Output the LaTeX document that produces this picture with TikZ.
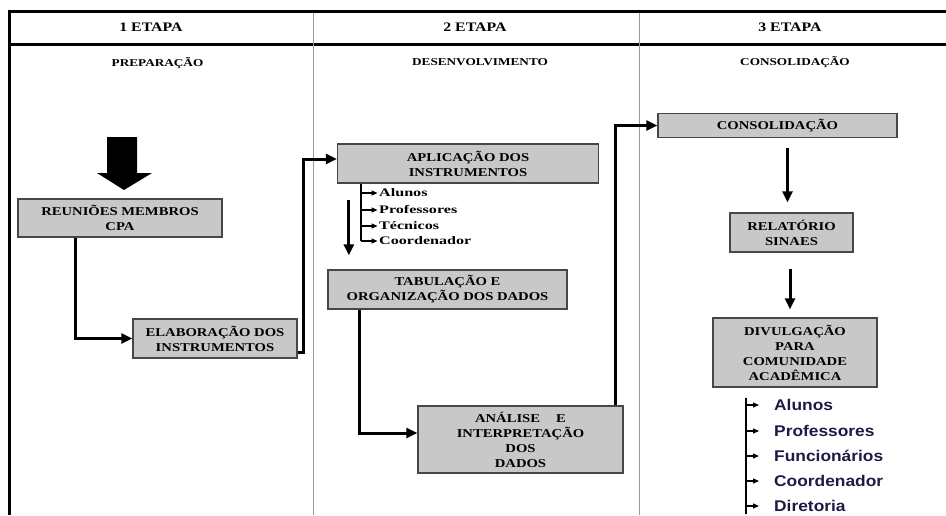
\documentclass[tikz,border=0pt]{standalone}
\usepackage{fontspec}
\setmainfont{Liberation Serif}
\newfontfamily\boxfont[FakeStretch=1.22]{Liberation Serif}
\newfontfamily\phasefont[FakeStretch=1.26]{Liberation Serif}
\newfontfamily\itemfont[FakeStretch=1.4]{Liberation Serif}
\newfontfamily\listfont[FakeStretch=1.12]{Liberation Sans}
\usetikzlibrary{arrows.meta,positioning,calc}

\definecolor{boxgray}{HTML}{C8C8C8}
\definecolor{listblue}{HTML}{1B1B45}

\begin{document}
\begin{tikzpicture}[x=1pt,y=-1pt,
	stagebox/.style={draw=black!72,line width=1.3pt,fill=boxgray,inner sep=0pt,align=center,font=\boxfont\bfseries\fontsize{12}{15}\selectfont},
	conn/.style={line width=3pt,-{Triangle[length=11pt,width=10pt]}},
	branch/.style={line width=1.3pt,-{Triangle[length=6pt,width=5pt]}},
	stagehead/.style={font=\boxfont\bfseries\fontsize{13}{15}\selectfont},
	phasehead/.style={font=\phasefont\bfseries\fontsize{10.5}{12}\selectfont},
	item/.style={anchor=west,inner sep=0pt,font=\itemfont\bfseries\fontsize{11.5}{13}\selectfont},
	listitem/.style={anchor=west,inner sep=0pt,text=listblue,font=\listfont\bfseries\fontsize{15.5}{18}\selectfont}]
	\useasboundingbox (0,0) rectangle (946,515);

	\draw[line width=3pt] (9,11) -- (946,11);
	\draw[line width=3pt] (9,44) -- (946,44);
	\draw[line width=3pt] (9,9.5) -- (9,515);
	\draw[gray!80,line width=0.9pt] (313,12.5) -- (313,515);
	\draw[gray!80,line width=0.9pt] (639,12.5) -- (639,515);

	\node[stagehead] (et1) at (151,27) {1 ETAPA};
	\node[stagehead] (et2) at (475,27) {2 ETAPA};
	\node[stagehead] (et3) at (790,27) {3 ETAPA};
	\node[phasehead] (ph1) at (157.5,63) {PREPARAÇÃO};
	\node[phasehead] (ph2) at (480,62) {DESENVOLVIMENTO};
	\node[phasehead] (ph3) at (795,62) {CONSOLIDAÇÃO};

	\fill (107,137) -- (137,137) -- (137,173) -- (152,173) -- (124,190) -- (97,173) -- (107,173) -- cycle;

	\node[stagebox,minimum width=204pt,minimum height=38pt] (reun) at (120,218) {REUNIÕES MEMBROS\\CPA};
	\node[stagebox,minimum width=164pt,minimum height=39pt] (elab) at (215,338.5) {ELABORAÇÃO DOS\\INSTRUMENTOS};
	\node[stagebox,minimum width=261pt,minimum height=39pt] (aplic) at (468,163.5) {APLICAÇÃO DOS\\INSTRUMENTOS};
	\node[stagebox,minimum width=239pt,minimum height=39pt] (tabul) at (447.5,289.5) {TABULAÇÃO E\\ORGANIZAÇÃO DOS DADOS};
	\node[stagebox,minimum width=205pt,minimum height=67pt] (anal) at (520.5,439.5) {ANÁLISE\hspace{16pt}E\\INTERPRETAÇÃO\\DOS\\DADOS};
	\node[stagebox,minimum width=239pt,minimum height=24pt] (consol) at (777.5,125.5) {CONSOLIDAÇÃO};
	\node[stagebox,minimum width=123pt,minimum height=39pt] (relat) at (791.5,232.5) {RELATÓRIO\\SINAES};
	\node[stagebox,minimum width=164pt,minimum height=69pt] (divulg) at (795,352.5) {DIVULGAÇÃO\\PARA\\COMUNIDADE\\ACADÊMICA};

	\draw[conn] ([xshift=-45pt]reun.south) |- (elab.west);
	\draw[conn] ([yshift=-13.5pt]elab.east) -- ++(6,0) |- ([yshift=4.5pt]aplic.west);
	\draw[conn] ([xshift=-88pt]tabul.south) |- ([yshift=6.5pt]anal.west);
	\draw[conn] ([xshift=-8pt]anal.north east) |- (consol.west);
	\draw[conn,shorten <=16pt,shorten >=14pt] ($(aplic.south west)+(12,0)$) -- ($(aplic.south west |- tabul.north)+(12,0)$);
	\draw[conn,shorten <=9.5pt,shorten >=10pt] ($(relat.north |- consol.south)+(-4,0)$) -- ($(relat.north)+(-4,0)$);
	\draw[conn,shorten <=16pt,shorten >=8pt] ($(relat.south)+(-1.5,0)$) -- ($(relat.south |- divulg.north)+(-1.5,0)$);

	\node[item] (alu2) at (379,193) {Alunos};
	\node[item] (prof2) at (379,210) {Professores};
	\node[item] (tec2) at (379,226) {Técnicos};
	\node[item] (coord2) at (379,241) {Coordenador};
	\coordinate (alist) at ($(aplic.south west)+(24,0)$);
	\draw[line width=1.3pt] (alist) -- (alist |- coord2.west);
	\draw[branch] (alist |- alu2.west) -- ([xshift=-1.5pt]alu2.west);
	\draw[branch] (alist |- prof2.west) -- ([xshift=-1.5pt]prof2.west);
	\draw[branch] (alist |- tec2.west) -- ([xshift=-1.5pt]tec2.west);
	\draw[branch] (alist |- coord2.west) -- ([xshift=-1.5pt]coord2.west);

	\node[listitem] (alu3) at (774,405) {Alunos};
	\node[listitem] (prof3) at (774,431) {Professores};
	\node[listitem] (func3) at (774,456) {Funcionários};
	\node[listitem] (coord3) at (774,481) {Coordenador};
	\node[listitem] (dir3) at (774,506) {Diretoria};
	\coordinate (dlist) at (746,398);
	\draw[line width=1.5pt] (dlist) -- (746,514);
	\draw[branch] (dlist |- alu3.west) -- ([xshift=-15pt]alu3.west);
	\draw[branch] (dlist |- prof3.west) -- ([xshift=-15pt]prof3.west);
	\draw[branch] (dlist |- func3.west) -- ([xshift=-15pt]func3.west);
	\draw[branch] (dlist |- coord3.west) -- ([xshift=-15pt]coord3.west);
	\draw[branch] (dlist |- dir3.west) -- ([xshift=-15pt]dir3.west);
\end{tikzpicture}
\end{document}
